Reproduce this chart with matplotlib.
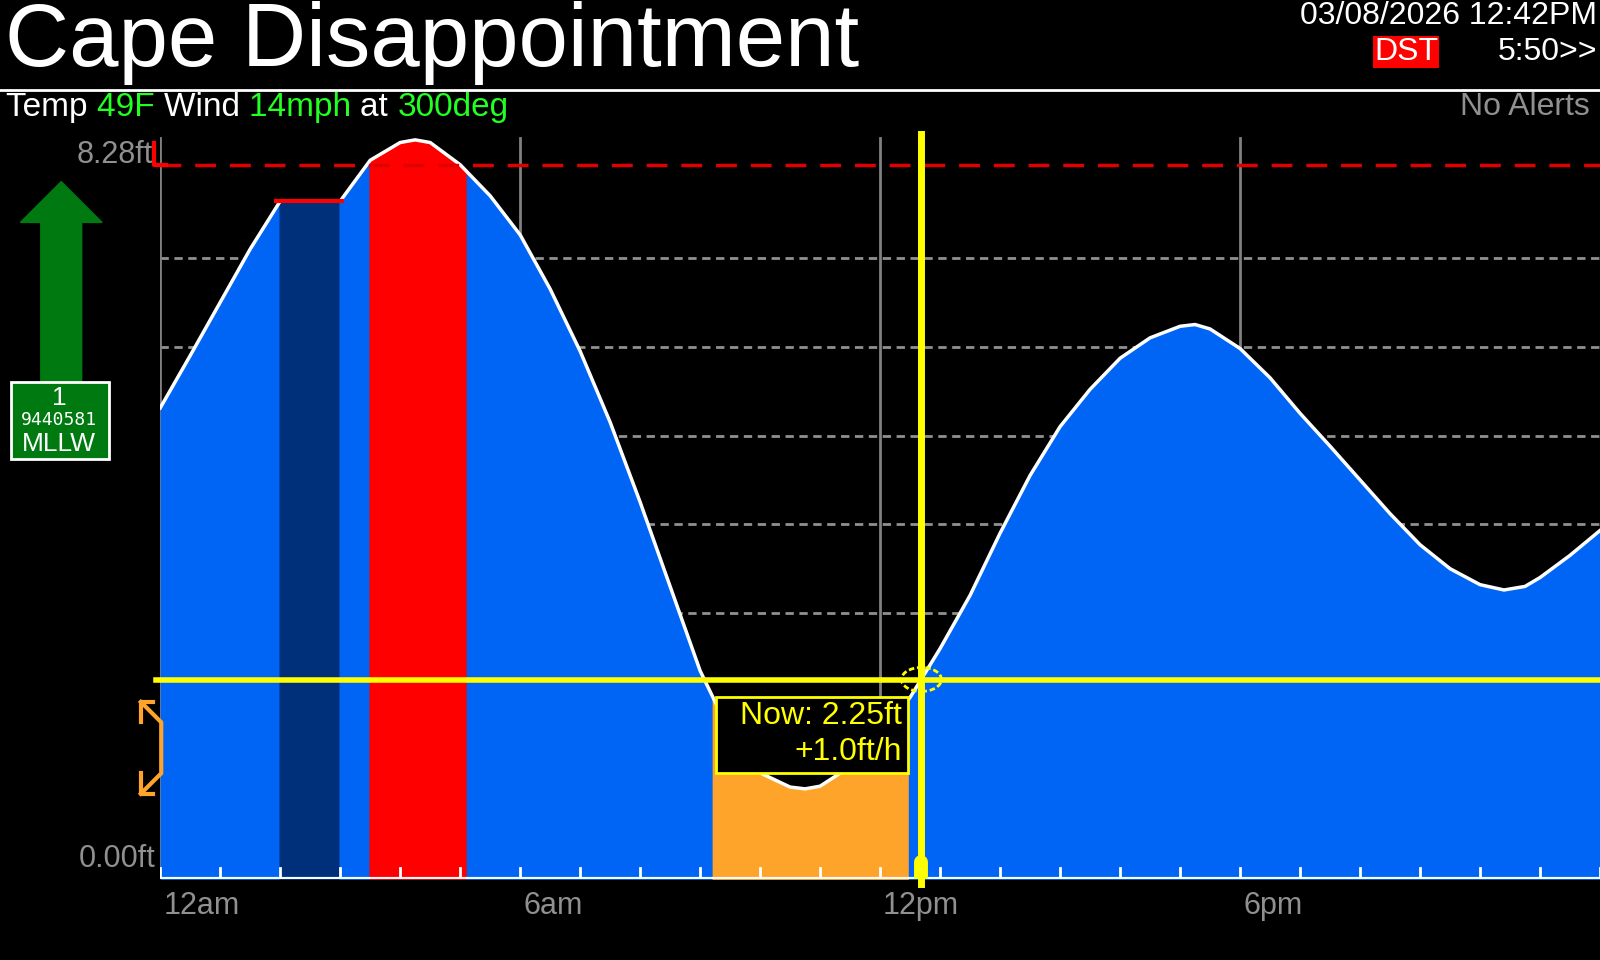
import numpy as np
import matplotlib.pyplot as plt
from matplotlib.patches import Rectangle, FancyArrow, Circle

# tide curve, hours since midnight vs height in ft
hours = [0, 0.5, 1, 1.5, 2, 2.5, 3, 3.5, 4, 4.25, 4.5, 5, 5.5, 6, 6.5, 7, 7.5, 8, 8.5,
         9, 9.5, 10, 10.5, 10.75, 11, 11.5, 12, 12.5, 13, 13.5, 14, 14.5, 15, 15.5, 16,
         16.5, 17, 17.25, 17.5, 18, 18.5, 19, 19.5, 20, 20.5, 21, 21.5, 22, 22.4, 22.75,
         23, 23.5, 24]
height = [5.31, 5.9, 6.5, 7.1, 7.64, 7.64, 7.64, 8.1, 8.3, 8.33, 8.3, 8.05, 7.7, 7.26,
          6.65, 5.95, 5.15, 4.25, 3.3, 2.35, 1.65, 1.2, 1.04, 1.02, 1.05, 1.27, 1.62, 2.05,
          2.6, 3.2, 3.9, 4.55, 5.1, 5.52, 5.87, 6.1, 6.23, 6.25, 6.2, 5.98, 5.65, 5.25,
          4.88, 4.5, 4.12, 3.77, 3.5, 3.32, 3.26, 3.3, 3.4, 3.65, 3.93]
navy_band = (1.98, 2.98)
red_band = (3.48, 5.1)
orange_band = (9.2, 12.47)
now_hour = 12.69
now_height = 2.25
max_line = 8.05
grid_ft = [1, 2, 3, 4, 5, 6, 7]
major_hours = [0, 6, 12, 18]
major_labels = ["12am", "6am", "12pm", "6pm"]

W, H = 1568.0, 941.0
def fx(x): return x / W
def fy(y): return 1 - y / H

fig = plt.figure(figsize=(16, 9.6), dpi=100, facecolor="black")
plt.rcParams['font.family'] = ['Liberation Sans', 'DejaVu Sans']

ax = fig.add_axes([fx(157), fy(862), 1 - fx(157), fy(131) - fy(862)])
ax.set_facecolor("black")
ax.set_xlim(0, 24)
ax.set_ylim(0, 8.4)
ax.axis("off")

for g in grid_ft:
    ax.axhline(g, color="#909090", lw=2, ls=(0, (3, 2)), zorder=1)
for h in major_hours:
    ax.plot([h, h], [0, 8.35], color="#808080", lw=2, zorder=1)

x = np.array(hours)
y = np.array(height)
ax.fill_between(x, 0, y, color="#0064f5", lw=0, zorder=2)
for (a, b), c in [(navy_band, "#00307a"), (red_band, "#ff0000"), (orange_band, "#ffa42a")]:
    xi = np.concatenate([[a], x[(x > a) & (x < b)], [b]])
    ax.fill_between(xi, 0, np.interp(xi, x, y), color=c, lw=0, zorder=3)
ax.plot(x, y, color="white", lw=2.5, zorder=4)
ax.plot([navy_band[0] - 0.05, navy_band[1] + 0.05], [7.64, 7.64], color="red", lw=3, zorder=5)

ax.axhline(max_line, color="#e00000", lw=2.5, ls=(0, (6, 4)), zorder=5)
ax.plot([-0.1, -0.1, 0.1], [8.3, max_line, max_line], color="red", lw=3, clip_on=False, zorder=6)

# baseline and hourly ticks
ax.axhline(0, color="white", lw=3, zorder=6)
for h in range(0, 25):
    ax.plot([h, h], [0, 0.13], color="white", lw=2, zorder=6)

# now marker
ax.axhline(now_height, xmin=-0.003, color="yellow", lw=4, zorder=7, clip_on=False)
ax.plot([now_hour, now_hour], [-0.05, 8.4], color="yellow", lw=5, zorder=7, clip_on=False)
ax.plot([now_hour, now_hour], [-0.05, 0.2], color="yellow", lw=10, solid_capstyle="round", zorder=7)
fig.patches.append(Circle((fx(903), fy(666)), 0.0125, transform=fig.transFigure, fill=False,
                          ec="yellow", lw=2, ls=(0, (2, 1)), zorder=8))
fig.patches.append(Rectangle((fx(702), fy(758)), fx(188), fy(683) - fy(758), transform=fig.transFigure,
                             fc="black", ec="yellow", lw=2, zorder=9))
fig.text(fx(884), fy(702), "Now: 2.25ft", color="yellow", fontsize=23, ha="right", va="center", zorder=10)
fig.text(fx(884), fy(737), "+1.0ft/h", color="yellow", fontsize=23, ha="right", va="center", zorder=10)

for h, lab in zip(major_hours, major_labels):
    ax.text(h + 0.05, -0.3, lab, color="#909090", fontsize=22, ha="left", va="center")
fig.text(fx(150), fy(152), "8.28ft", color="#909090", fontsize=22, ha="right", va="center")
fig.text(fx(152), fy(842), "0.00ft", color="#909090", fontsize=22, ha="right", va="center")

# orange bracket on the left
fig.lines.append(plt.Line2D([fx(138), fx(158), fx(158), fx(138)], [fy(688), fy(708), fy(758), fy(778)],
                            transform=fig.transFigure, color="#ffa42a", lw=3))
fig.lines.append(plt.Line2D([fx(138), fx(138), fx(150)], [fy(708), fy(688), fy(688)],
                            transform=fig.transFigure, color="#ffa42a", lw=3))
fig.lines.append(plt.Line2D([fx(138), fx(138), fx(150)], [fy(758), fy(778), fy(778)],
                            transform=fig.transFigure, color="#ffa42a", lw=3))

# header
fig.text(fx(5), fy(42), "Cape Disappointment", color="white", fontsize=64, ha="left", va="center")
fig.lines.append(plt.Line2D([0, 1], [fy(88), fy(88)], transform=fig.transFigure, color="white", lw=2))
fig.text(fx(1565), fy(16), "03/08/2026 12:42PM", color="white", fontsize=23, ha="right", va="center")
fig.text(fx(1378), fy(51), "DST", color="white", fontsize=23, ha="center", va="center",
         bbox=dict(fc="red", ec="none", pad=1))
fig.text(fx(1565), fy(51), "5:50>>", color="white", fontsize=23, ha="right", va="center")
parts = [("Temp ", "white"), ("49F ", "#22ff22"), ("Wind ", "white"), ("14mph ", "#22ff22"),
         ("at ", "white"), ("300deg", "#22ff22")]
xpos = fx(6)
fig.canvas.draw()
r = fig.canvas.get_renderer()
for s, c in parts:
    t = fig.text(xpos, fy(105), s, color=c, fontsize=24, ha="left", va="center")
    xpos += t.get_window_extent(r).width / fig.bbox.width
fig.text(fx(1558), fy(105), "No Alerts", color="#909090", fontsize=23, ha="right", va="center")

# green arrow and station box
fig.patches.append(FancyArrow(fx(60), fy(375), 0, fy(178) - fy(375), width=fx(40), head_width=fx(80),
                              head_length=fy(178) - fy(218), length_includes_head=True,
                              transform=fig.transFigure, color="#007a10"))
fig.patches.append(Rectangle((fx(11), fy(450)), fx(96), fy(374) - fy(450), transform=fig.transFigure,
                             fc="#007a10", ec="white", lw=2))
fig.text(fx(58), fy(390), "1", color="white", fontsize=19, ha="center", va="center")
fig.text(fx(58), fy(412), "9440581", color="white", fontsize=13, ha="center", va="center", family="DejaVu Sans Mono")
fig.text(fx(58), fy(435), "MLLW", color="white", fontsize=19, ha="center", va="center")

fig.savefig("out.png", dpi=100, facecolor="black")
